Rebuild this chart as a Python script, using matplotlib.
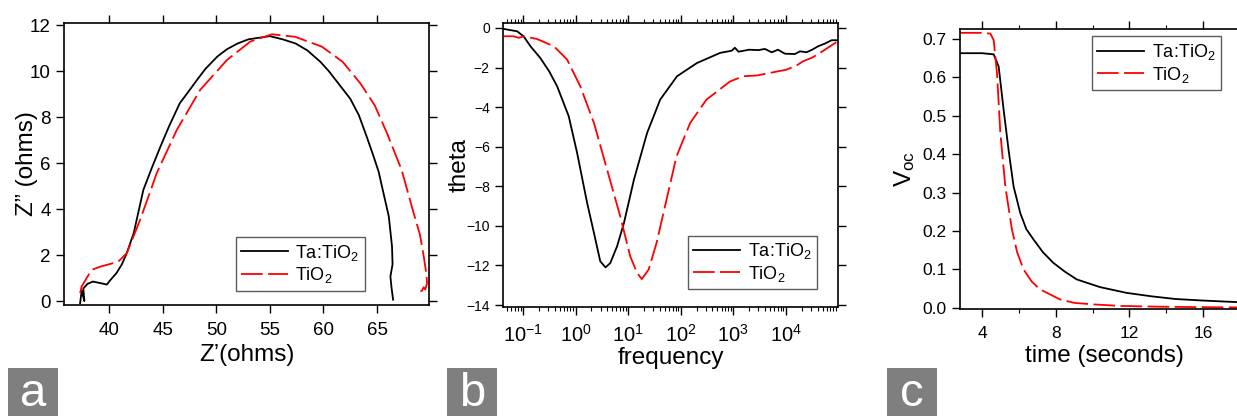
# Three-panel figure: Nyquist plot, Bode phase plot and Voc decay
import numpy as np
import matplotlib.pyplot as plt
from matplotlib.ticker import MultipleLocator, FormatStrFormatter, LogLocator
from matplotlib.patches import Rectangle

plt.rcParams['font.family'] = ['Liberation Sans', 'DejaVu Sans']
plt.rcParams['mathtext.default'] = 'regular'

label_doped = 'Ta:TiO$_2$'
label_plain = 'TiO$_2$'

# (a) Nyquist: Z' vs Z''
za_doped_re = [37.3, 37.45, 37.7, 37.6, 38.0, 38.5, 39.0, 39.5, 39.8, 40.1, 40.7, 41.2, 41.65, 42.3, 43.2,
               44.0, 44.8, 45.6, 46.6, 47.4, 48.2, 49.0, 50.1, 51.0, 52.0, 53.0, 54.0, 55.0, 56.2,
               57.4, 58.5, 59.7, 60.5, 61.5, 62.5, 63.3, 64.0, 64.6, 65.15, 65.6, 66.1, 66.4,
               66.45, 66.25, 66.35, 66.5]
za_doped_im = [-0.1, 0.45, 0.0, 0.55, 0.75, 0.85, 0.8, 0.75, 0.72, 0.9, 1.22, 1.6, 2.08, 2.95, 4.83,
               5.8, 6.72, 7.6, 8.6, 9.1, 9.61, 10.1, 10.63, 10.95, 11.2, 11.38, 11.45, 11.52, 11.38,
               11.2, 10.9, 10.41, 10.0, 9.4, 8.8, 8.09, 7.2, 6.4, 5.63, 4.7, 3.68, 2.37,
               1.6, 1.07, 0.6, 0.06]
za_plain_re = [37.3, 37.45, 38.0, 38.4, 39.2, 40.0, 40.87, 41.65, 42.9, 44.45, 46.32, 48.5, 51.0,
               53.17, 55.19, 57.37, 59.86, 61.8, 63.44, 64.8, 65.93, 67.3, 68.42, 69.0, 69.36,
               69.6, 69.67, 69.5, 69.35, 69.2, 69.05]
za_plain_im = [0.35, 0.64, 1.07, 1.36, 1.5, 1.6, 1.72, 2.08, 3.53, 5.56, 7.44, 9.18, 10.48,
               11.28, 11.6, 11.49, 11.06, 10.4, 9.47, 8.5, 7.3, 5.7, 3.82, 2.9, 1.94,
               1.2, 0.78, 0.5, 0.6, 0.45, 0.42]

# (b) Bode phase: log10(frequency) vs theta
fb_doped_log = [-1.367, -1.11, -0.99, -0.85, -0.67, -0.5, -0.35, -0.13, 0.03, 0.22, 0.35, 0.47,
                0.57, 0.66, 0.79, 0.92, 1.11, 1.36, 1.61, 1.93, 2.31, 2.75, 2.97, 3.03, 3.1,
                3.3, 3.48, 3.6, 3.73, 3.85, 3.98, 4.17, 4.27, 4.39, 4.5, 4.61, 4.75, 4.87, 4.97]
tb_doped = [-0.05, -0.17, -0.42, -0.95, -1.52, -2.2, -2.95, -4.46, -6.32, -8.84, -10.36, -11.79,
            -12.1, -11.88, -11.03, -9.86, -7.67, -5.31, -3.62, -2.44, -1.77, -1.26, -1.15, -1.0,
            -1.2, -1.1, -1.12, -1.06, -1.23, -1.1, -1.3, -1.32, -1.18, -1.23, -1.1, -0.93,
            -0.78, -0.62, -0.62]
fb_plain_log = [-1.367, -1.18, -1.08, -0.99, -0.73, -0.41, -0.16, 0.09, 0.35, 0.6, 0.85, 1.04,
                1.17, 1.26, 1.39, 1.54, 1.73, 1.92, 2.18, 2.49, 2.94, 3.19, 3.45, 3.7, 4.01,
                4.2, 4.33, 4.5, 4.65, 4.8, 4.96]
tb_plain = [-0.42, -0.42, -0.5, -0.42, -0.56, -0.93, -1.6, -2.95, -4.8, -7.16, -9.52, -11.54,
            -12.38, -12.69, -12.21, -10.87, -8.68, -6.49, -4.8, -3.62, -2.7, -2.44, -2.4,
            -2.27, -2.11, -1.9, -1.68, -1.5, -1.26, -1.0, -0.72]

# (c) open-circuit voltage decay
tc_doped = [2.8, 4.0, 4.63, 4.9, 5.17, 5.44, 5.71, 6.07, 6.4, 6.79, 7.3, 7.87, 8.5, 9.14, 10.4,
            11.84, 13.2, 14.5, 16.0, 17.8, 18.5]
vc_doped = [0.663, 0.663, 0.66, 0.628, 0.515, 0.41, 0.316, 0.247, 0.205, 0.178, 0.145, 0.117,
            0.094, 0.074, 0.054, 0.039, 0.03, 0.023, 0.019, 0.015, 0.014]
tc_plain = [2.8, 4.0, 4.45, 4.63, 4.81, 4.99, 5.26, 5.62, 5.9, 6.25, 6.7, 7.15, 8.23, 9.0, 10.04,
            11.5, 13.6, 15.5, 17.8, 18.5]
vc_plain = [0.716, 0.716, 0.714, 0.697, 0.61, 0.456, 0.316, 0.204, 0.145, 0.10, 0.068, 0.048,
            0.022, 0.013, 0.009, 0.005, 0.003, 0.002, 0.001, 0.001]

W, H = 1237, 416
fig = plt.figure(figsize=(W / 100, H / 100), dpi=100)


def box(left, top, right, bottom):
    return [left / W, 1 - bottom / H, (right - left) / W, (bottom - top) / H]


def style(ax, size):
    ax.tick_params(which='both', direction='out', top=True, right=True, labelsize=size)
    ax.tick_params(which='major', length=6, width=1)
    ax.tick_params(which='minor', length=3, width=0.8)
    ax.tick_params(axis='x', pad=6)
    for s in ax.spines.values():
        s.set_linewidth(1.2)


def add_legend(ax, anchor, transform=None):
    leg = ax.legend(loc='lower left', bbox_to_anchor=anchor,
                    bbox_transform=transform or ax.transAxes, fontsize=13,
                    frameon=True, fancybox=False, edgecolor='#333333', borderaxespad=0,
                    handlelength=2.6, labelspacing=0.15, borderpad=0.3, handletextpad=0.4)
    leg.get_frame().set_linewidth(1.0)


red_dash = (0, (12, 3))

# --- panel a
ax1 = fig.add_axes(box(64, 23, 429, 305))
ax1.plot(za_doped_re, za_doped_im, color='black', lw=1.3, label=label_doped)
ax1.plot(za_plain_re, za_plain_im, color='red', lw=1.3, ls=red_dash, label=label_plain)
ax1.set_xlim(35.8, 69.85)
ax1.set_ylim(-0.17, 12.09)
ax1.xaxis.set_major_locator(MultipleLocator(5))
ax1.yaxis.set_major_locator(MultipleLocator(2))
style(ax1, 13.5)
ax1.tick_params(top=True, labeltop=False, right=True, labelright=False)
ax1.set_xlabel('Z\u2019(ohms)', fontsize=17.5, labelpad=4)
ax1.set_ylabel('Z\u201d (ohms)', fontsize=17.5, labelpad=-6)
add_legend(ax1, (0.471, 0.05))

# --- panel b
ax2 = fig.add_axes(box(503, 23, 838, 307))
ax2.plot(10 ** np.array(fb_doped_log), tb_doped, color='black', lw=1.3, label=label_doped)
ax2.plot(10 ** np.array(fb_plain_log), tb_plain, color='red', lw=1.3, ls=red_dash, label=label_plain)
ax2.set_xscale('log')
ax2.xaxis.set_major_locator(LogLocator(base=10, numticks=20))
ax2.xaxis.set_minor_locator(LogLocator(base=10, subs=np.arange(2, 10), numticks=20))
ax2.set_xlim(0.0417, 9.8e4)
ax2.set_ylim(-14.1, 0.25)
ax2.yaxis.set_major_locator(MultipleLocator(2))
style(ax2, 14.5)
ax2.tick_params(axis='y', labelsize=10)
ax2.set_xlabel('frequency', fontsize=17.5, labelpad=1)
ax2.set_ylabel('theta', fontsize=17.5, labelpad=-3)
add_legend(ax2, (0.552, 0.063))

# --- panel c (right side cut by the figure edge)
ax3 = fig.add_axes(box(960, 29, 960 + (18.5 - 2.8) * 18.42, 309))
ax3.plot(tc_doped, vc_doped, color='black', lw=1.3, label=label_doped)
ax3.plot(tc_plain, vc_plain, color='red', lw=1.3, ls=red_dash, label=label_plain)
ax3.set_xlim(2.8, 18.5)
ax3.set_ylim(-0.003, 0.726)
ax3.xaxis.set_major_locator(MultipleLocator(4))
ax3.xaxis.set_minor_locator(MultipleLocator(2))
ax3.yaxis.set_major_locator(MultipleLocator(0.1))
ax3.yaxis.set_major_formatter(FormatStrFormatter('%.1f'))
style(ax3, 12.5)
ax3.set_xlabel('time (seconds)', fontsize=17.5, labelpad=3)
ax3.set_ylabel('V$_{oc}$', fontsize=17.5, labelpad=4)
add_legend(ax3, (1092 / W, 1 - 90 / H), fig.transFigure)

# panel letters
for letter, x0 in [('a', 8), ('b', 447), ('c', 887)]:
    fig.patches.append(Rectangle((x0 / W, 0), 50 / W, 48 / H, transform=fig.transFigure,
                                 facecolor='#7f7f7f', edgecolor='none'))
    fig.text((x0 + 25) / W, 22 / H, letter, color='white', fontsize=34,
             ha='center', va='center')

fig.savefig('out.png', dpi=100)
